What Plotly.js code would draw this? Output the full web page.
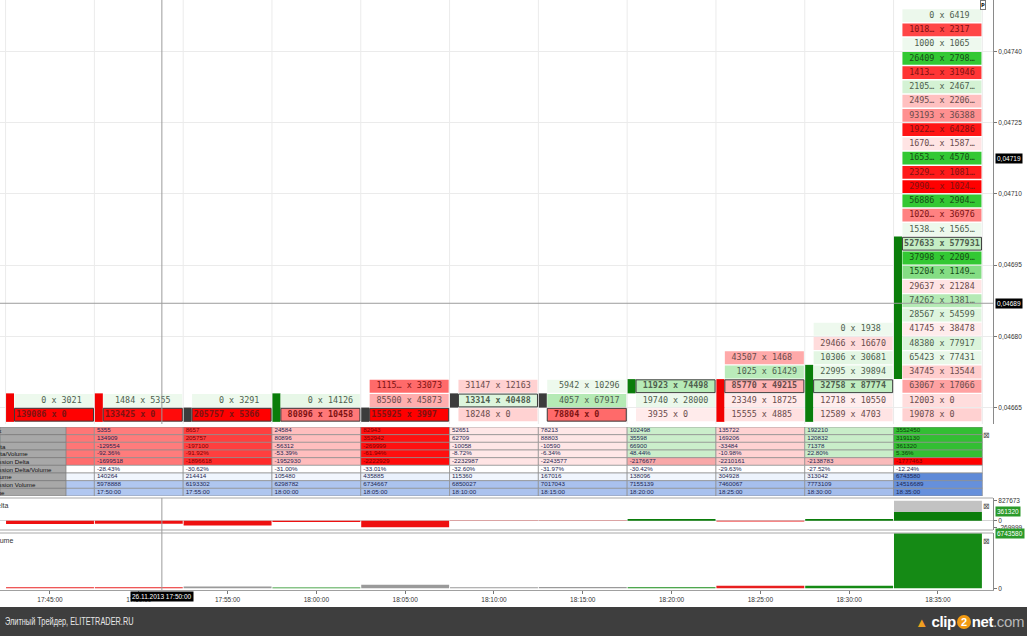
<!DOCTYPE html>
<html><head><meta charset="utf-8">
<script src="https://cdn.plot.ly/plotly-3.0.1.min.js"></script>
<style>
html,body{margin:0;padding:0;background:#fff;width:1027px;height:636px;overflow:hidden;font-family:Arial,sans-serif}
#chart{position:absolute;left:0;top:0;width:1027px;height:607px}
#footer{position:absolute;left:0;top:607px;width:1027px;height:29px;background:#3e3e3e;}
#footer .l{position:absolute;left:5px;top:0;line-height:29px;font-size:10.5px;font-family:'Liberation Sans',Arial,sans-serif;color:#e6e6e6;transform:scaleX(0.7);transform-origin:0 50%;white-space:nowrap}
#footer .r{position:absolute;right:3px;top:0;line-height:29px;font-family:'Liberation Sans',Arial,sans-serif;font-size:15px;font-weight:bold;color:#fff;letter-spacing:-0.4px}
#footer .two{display:inline-block;width:14px;height:14px;border-radius:50%;background:#f29a12;color:#fff;text-align:center;line-height:14px;font-size:11px;vertical-align:1px;margin:0 1px}
</style></head><body>
<div id="chart"></div>
<div id="footer"><span class="l">Элитный Трейдер, ELITETRADER.RU</span><span class="r"><span style="color:#f0a020;font-size:13px">&#9650;</span> clip<span class="two">2</span>net<span style="color:#b8b8b8;font-weight:normal">.com</span></span></div>
<script>
// ---------- DATA ----------
const times = ['17:45:00','17:50:00','17:55:00','18:00:00','18:05:00','18:10:00','18:15:00','18:20:00','18:25:00','18:30:00','18:35:00'];

// footprint: bid volume (left) x ask volume (right), lowest price row first
const bid1745 = [139086, 0];
const ask1745 = [0, 3021];
const bid1750 = [133425, 1484];
const ask1750 = [0, 5355];
const bid1755 = [205757, 0];
const ask1755 = [5366, 3291];
const bid1800 = [80896, 0];
const ask1800 = [10458, 14126];
const bid1805 = [155925, 85500, 111517];
const ask1805 = [3997, 45873, 33073];
const bid1810 = [18248, 13314, 31147];
const ask1810 = [0, 40488, 12163];
const bid1815 = [78804, 4057, 5942];
const ask1815 = [0, 67917, 10296];
const bid1820 = [3935, 19740, 11923];
const ask1820 = [0, 28000, 74498];
const bid1825 = [15555, 23349, 85770, 1025, 43507];
const ask1825 = [4885, 18725, 49215, 61429, 1468];
const bid1830 = [12589, 12718, 32758, 22995, 10306, 29466, 0];
const ask1830 = [4703, 10550, 87774, 39894, 30681, 16670, 1938];
const bid1835 = [19078, 12003, 63067, 34745, 65423, 48380, 41745, 28567, 74262, 29637, 15204, 37998, 527633,
                 153885, 102088, 56886, 299026, 232967, 165318, 167074, 192231, 93193, 249583, 210519, 141362, 26409, 1000, 101847, 0];
const ask1835 = [0, 0, 17066, 13544, 77431, 77917, 38478, 54599, 138158, 21284, 114968, 220926, 577931,
                 156593, 36976, 290478, 102417, 108164, 457089, 158733, 64286, 36388, 220612, 246791, 31946, 279874, 1065, 2317, 6419];
const firstRow = [0, 0, 0, 0, 0, 0, 0, 0, 0, 0, 0];

const candleOpenRow  = [1, 1, 0, 0, 0, 1, 1, 2, 2, 0, 3];
const candleCloseRow = [0, 0, 0, 1, 0, 1, 1, 2, 0, 3, 12];
const candleState = ['down','down','flat','up','flat','flat','flat','up','down','up','up'];

const sessionDeltaBefore = -1433899;
const sessionVolumeBefore = 5696517;
const lastBarDeltaPeak = 827673;

const priceTicks = [0.04665, 0.04680, 0.04695, 0.04710, 0.04725, 0.04740];
const rowPrice0 = 0.046635, priceStep = 0.00003;

const tableRowNames = ['Ask','Bid','Delta','Delta/Volume','Session Delta','Session Delta/Volume','Volume','Session Volume','Time'];
const sessionDeltaColors = ['#ff6d6d','#ff7777','#ff2a2a','#ffbcbc','#ff0a0a','#ffe4e4','#ffe4e4','#f8a8a8','#fccaca','#f9baba','#ff0000'];

const lastPriceText = '0,04719', lastPriceRow = 18;
const crossBar = 1.26, crossRow = 7.82, crossPriceText = '0,04689', crossDateText = '26.11.2013 17:50:00';

// ---------- HELPERS ----------
const bids = [bid1745,bid1750,bid1755,bid1800,bid1805,bid1810,bid1815,bid1820,bid1825,bid1830,bid1835];
const asks = [ask1745,ask1750,ask1755,ask1800,ask1805,ask1810,ask1815,ask1820,ask1825,ask1830,ask1835];
const N = times.length;
const sum = a => a.reduce((s,v)=>s+v,0);
function mix(a,b,t){return 'rgb('+[0,1,2].map(i=>Math.round(a[i]+(b[i]-a[i])*t)).join(',')+')';}
function cellColor(d){
  if(d<0){const t=Math.min(1,-d/140000);return mix([255,242,242],[255,0,0],t);}
  const t=Math.pow(Math.min(1,d/150000),1.4);return mix([238,249,238],[51,200,51],t);
}
function cellText(d){
  if(d<0) return (-d/140000)>0.45?'#7e1212':'#6a4c4c';
  return Math.pow(Math.min(1,d/150000),1.4)>0.45?'#174d17':'#4f5f4f';
}
const NB='\u00a0';
function fmt(n,full){const s=String(n);return (!full && n>=100000)? s.slice(0,4)+'\u2026' : s;}

// ---------- LADDER ----------
const CELL_OFF=0.045, CELL_W=0.89;
const lc={x:[],base:[],y:[],w:[],col:[],lcol:[],lw:[]};
const lt={x:[],y:[],text:[],col:[]};
for(let k=0;k<N;k++){
  const b=bids[k],a=asks[k];
  const vols=b.map((v,i)=>v+a[i]);
  const poc=vols.indexOf(Math.max(...vols));
  for(let i=0;i<b.length;i++){
    const r=firstRow[k]+i, d=a[i]-b[i], isPoc=i===poc;
    lc.x.push(k+CELL_OFF); lc.base.push(r-0.45); lc.y.push(0.9); lc.w.push(CELL_W);
    lc.col.push(cellColor(d)); lc.lcol.push(isPoc?'#3a3a3a':'rgba(0,0,0,0)'); lc.lw.push(isPoc?1:0);
    let s=fmt(b[i],isPoc).padStart(6,NB)+' x '+fmt(a[i],isPoc).padEnd(6,NB);
    s=s.replace(/ /g,NB);
    lt.x.push(k+CELL_OFF); lt.y.push(r); lt.text.push(isPoc?'<b>'+s+'</b>':s); lt.col.push(cellText(d));
  }
}
const candleColors={up:'#0a7d0a',down:'#f20000',flat:'#3c3c3c'};
const volColors={up:'#158a15',down:'#e82020',flat:'#9a9a9a'};
const cd={x:[],base:[],y:[],col:[]};
for(let k=0;k<N;k++){
  const lo=Math.min(candleOpenRow[k],candleCloseRow[k]), hi=Math.max(candleOpenRow[k],candleCloseRow[k]);
  cd.x.push(k-0.45); cd.base.push(lo-0.5); cd.y.push(hi-lo+1); cd.col.push(candleColors[candleState[k]]);
}

// ---------- TABLE ----------
const askTot=asks.map(sum), bidTot=bids.map(sum);
const deltas=askTot.map((v,k)=>v-bidTot[k]);
const vols=askTot.map((v,k)=>v+bidTot[k]);
const sessDelta=[], sessVol=[];
let sd=sessionDeltaBefore, sv=sessionVolumeBefore;
for(let k=0;k<N;k++){sd+=deltas[k];sv+=vols[k];sessDelta.push(sd);sessVol.push(sv);}
const pct=v=>v.toFixed(2)+'%';
const tableVals=[askTot,bidTot,deltas,deltas.map((d,k)=>pct(d/vols[k]*100)),sessDelta,
  sessDelta.map((d,k)=>pct(d/sessVol[k]*100)),vols,sessVol,times];
const maxVol=Math.max(...vols), maxSV=Math.max(...sessVol);
function tableColor(j,k){
  const d=deltas[k];
  if(j<=3){
    if(d<0){return mix([255,240,240],[255,16,16],Math.min(1,-d/250000));}
    return mix([238,249,238],[51,190,51],Math.min(1,d/360000));
  }
  if(j===4) return sessionDeltaColors[k];
  if(j===5) return '#ffffff';
  if(j===6) return mix([244,248,254],[95,138,216],vols[k]/maxVol);
  return mix([200,216,246],[102,144,220],Math.pow(sessVol[k]/maxSV,1.6));
}
function tableTextColor(j,k){
  const d=deltas[k];
  if((j<=3 && d< -150000) || (j===4 && k===10) || (j===4 && (k===2||k===4))) return '#7a0000';
  if(j<=3 && d>200000) return '#0d3a0d';
  return '#1c2652';
}
// the first bar's column sits under the row-name column, so only its colour shows
const tb={x:[],base:[],y:[],col:[]}, tt={x:[],y:[],text:[],col:[]};
for(let j=0;j<9;j++){for(let k=0;k<N;k++){
  tb.x.push(k); tb.base.push(j-0.5); tb.y.push(1); tb.col.push(tableColor(j,k));
  if(k===0) continue;
  tt.x.push(k-0.5+0.028); tt.y.push(j); tt.text.push(String(tableVals[j][k])); tt.col.push(tableTextColor(j,k));
}}

// ---------- DOMAINS ----------
const H=590;
const dMain=[1-424/H,1], dTable=[(H-496)/H,(H-427)/H], dDelta=[(H-530)/H,(H-498)/H], dVol=[0,(H-533)/H];
const narrow="'Liberation Sans Narrow','Arial Narrow','Liberation Sans',Arial,sans-serif";

const traces=[
  {type:'bar',x:cd.x,y:cd.y,base:cd.base,width:0.09,marker:{color:cd.col,line:{width:0}},xaxis:'x',yaxis:'y',hoverinfo:'skip'},
  {type:'bar',x:lc.x,y:lc.y,base:lc.base,width:lc.w,marker:{color:lc.col,line:{color:lc.lcol,width:lc.lw}},xaxis:'x',yaxis:'y',hoverinfo:'skip'},
  {type:'scatter',mode:'text',x:lt.x,y:lt.y,text:lt.text,textposition:'middle center',
   textfont:{family:"'DejaVu Sans Mono',monospace",size:8.4,color:lt.col},xaxis:'x',yaxis:'y',hoverinfo:'skip'},
  {type:'bar',x:tb.x,y:tb.y,base:tb.base,width:1,marker:{color:tb.col,line:{color:'#8e8e8e',width:0.7}},xaxis:'x',yaxis:'y2',hoverinfo:'skip'},
  {type:'scatter',mode:'text',x:tt.x,y:tt.y,text:tt.text,textposition:'middle right',
   textfont:{family:narrow,size:6.2,color:tt.col},xaxis:'x',yaxis:'y2',hoverinfo:'skip'},
  {type:'bar',x:[N-1],y:[lastBarDeltaPeak-deltas[N-1]],base:[deltas[N-1]],width:0.99,marker:{color:'#c2c2c2'},xaxis:'x',yaxis:'y3',hoverinfo:'skip'},
  {type:'bar',x:times.map((t,k)=>k),y:deltas,width:0.99,marker:{color:deltas.map(d=>d<0?'#ee1010':'#0b7d0b')},xaxis:'x',yaxis:'y3',hoverinfo:'skip'},
  {type:'bar',x:times.map((t,k)=>k),y:vols,width:0.99,marker:{color:candleState.map(s=>volColors[s])},xaxis:'x',yaxis:'y4',hoverinfo:'skip'}
];

const rowOf=p=>(p-rowPrice0)/priceStep;
const axFont={family:narrow,size:6.5,color:'#333'};
const shapes=[];
for(let k=-1;k<N;k++) shapes.push({type:'line',xref:'x',yref:'paper',x0:k+0.5,x1:k+0.5,y0:dMain[0],y1:1,line:{color:'#ebebeb',width:1},layer:'below'});
[dDelta[1],dDelta[0],dVol[1]].forEach(y=>shapes.push({type:'line',xref:'paper',yref:'paper',x0:0,x1:1,y0:y,y1:y,line:{color:'#a8a8a8',width:1}}));
for(let j=0;j<9;j++) shapes.push({type:'rect',xref:'paper',yref:'y2',x0:0,x1:66/993,y0:j-0.5,y1:j+0.5,fillcolor:'#a8a8a8',line:{color:'#7c7c7c',width:0.7},layer:'above'});
shapes.push({type:'line',xref:'x',yref:'paper',x0:crossBar,x1:crossBar,y0:dMain[0],y1:1,line:{color:'#9c9c9c',width:1},layer:'above'});
shapes.push({type:'line',xref:'x',yref:'paper',x0:crossBar,x1:crossBar,y0:0,y1:dDelta[1],line:{color:'#9c9c9c',width:1},layer:'above'});
shapes.push({type:'line',xref:'paper',yref:'y',x0:0,x1:1,y0:crossRow,y1:crossRow,line:{color:'#9c9c9c',width:1},layer:'above'});

const tag=(text,yref,y,bg)=>({xref:'paper',x:1,xanchor:'left',xshift:2,yref:yref,y:y,yanchor:'middle',text:text,showarrow:false,
  bgcolor:bg,font:{family:narrow,size:6.5,color:'#fff'},borderpad:1});
const annotations=[
  tag(lastPriceText,'y',lastPriceRow,'#000'),
  tag(crossPriceText,'y',crossRow,'#000'),
  tag(String(deltas[N-1]),'y3',deltas[N-1],'#2a9a2a'),
  tag(String(vols[N-1]),'y4',vols[N-1],'#2a9a2a'),
  {xref:'x',x:crossBar,yref:'paper',y:0,yanchor:'top',yshift:-1,text:crossDateText,showarrow:false,bgcolor:'#000',
   font:{family:narrow,size:6.5,color:'#fff'},borderpad:1},
  {xref:'paper',x:0,xanchor:'left',xshift:-10,yref:'paper',y:dDelta[1],yanchor:'top',yshift:-2,text:'Delta',showarrow:false,font:{family:narrow,size:7,color:'#333'}},
  {xref:'paper',x:0,xanchor:'left',xshift:-12,yref:'paper',y:dVol[1],yanchor:'top',yshift:-2,text:'Volume',showarrow:false,font:{family:narrow,size:7,color:'#333'}},
];
tableRowNames.forEach((n,j)=>annotations.push({xref:'paper',x:0,xanchor:'left',xshift:-11,yref:'y2',y:j,yanchor:'middle',text:n,showarrow:false,
  font:{family:narrow,size:6.2,color:'#111'}}));
[dTable[1],dDelta[1],dVol[1]].forEach(y=>annotations.push({xref:'paper',x:1,xanchor:'right',xshift:-1,yref:'paper',y:y,yanchor:'top',text:'⊠',showarrow:false,font:{size:8,color:'#555'}}));
annotations.push({xref:'paper',x:983/993,xanchor:'center',yref:'paper',y:1,yanchor:'top',text:'<b>P</b>',showarrow:false,
  font:{size:6,color:'#000'},bordercolor:'#777',borderwidth:1,borderpad:0,bgcolor:'#fff'});

const layout={
  width:1027,height:607,margin:{l:0,r:34,t:0,b:17},paper_bgcolor:'#fff',plot_bgcolor:'#fff',
  showlegend:false,barmode:'overlay',
  xaxis:{domain:[0,1],range:[-0.563,10.62],anchor:'y4',tickvals:times.map((t,k)=>k),ticktext:times,ticks:'outside',ticklen:3,
    tickcolor:'#777',showline:true,linecolor:'#a0a0a0',showgrid:false,zeroline:false,tickfont:axFont,fixedrange:true},
  yaxis:{domain:dMain,range:[-0.65,29.1],side:'right',anchor:'x',tickvals:priceTicks.map(rowOf),
    ticktext:priceTicks.map(p=>p.toFixed(5).replace('.',',')),ticks:'outside',ticklen:3,tickcolor:'#777',
    showline:true,linecolor:'#8a8a8a',showgrid:true,gridcolor:'#ebebeb',zeroline:false,tickfont:axFont},
  yaxis2:{domain:dTable,range:[8.5,-0.5],anchor:'x',visible:false},
  yaxis3:{domain:dDelta,range:[-384871,939410],side:'right',anchor:'x',tickvals:[Math.min(...deltas),0,lastBarDeltaPeak],
    ticktext:[String(Math.min(...deltas)),'0',String(lastBarDeltaPeak)],ticks:'outside',ticklen:3,tickcolor:'#777',
    showline:true,linecolor:'#8a8a8a',showgrid:false,zeroline:true,zerolinecolor:'#d4d4d4',zerolinewidth:1,tickfont:axFont},
  yaxis4:{domain:dVol,range:[-207300,6780000],side:'right',anchor:'x',tickvals:[0],ticktext:['0'],ticks:'outside',ticklen:3,tickcolor:'#777',
    showline:true,linecolor:'#8a8a8a',showgrid:false,zeroline:false,tickfont:axFont},
  shapes:shapes,annotations:annotations
};
Plotly.newPlot('chart',traces,layout,{staticPlot:true,displayModeBar:false});
</script>
</body></html>
